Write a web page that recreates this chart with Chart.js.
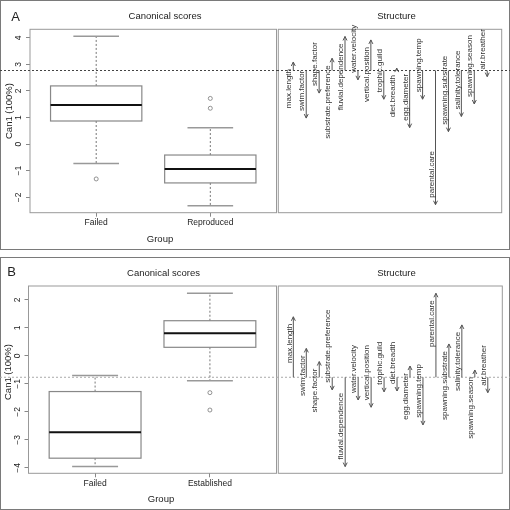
<!DOCTYPE html>
<html>
<head>
<meta charset="utf-8">
<script src="https://cdn.jsdelivr.net/npm/chart.js@4.4.1/dist/chart.umd.min.js"></script>
<style>
body{margin:0;background:#fff;width:510px;height:510px;position:relative;overflow:hidden;font-family:"Liberation Sans",Arial,sans-serif;color:#222;}
.panel{position:absolute;left:0;width:508px;border:1px solid #7a7a7a;}
canvas{position:absolute;}
.t{position:absolute;white-space:nowrap;transform:translate(-50%,-50%);font-size:9.5px;}
.letter{font-size:13px;}
.rot{transform:translate(-50%,-50%) rotate(-90deg);}
</style>
</head>
<body>
<div class="panel" style="top:0;height:248px"></div>
<div class="panel" style="top:257px;height:251px"></div>

<canvas id="boxA" width="277" height="249" style="left:0;top:0"></canvas>
<canvas id="structA" width="233" height="249" style="left:277px;top:0"></canvas>
<canvas id="boxB" width="277" height="252" style="left:0;top:257px"></canvas>
<canvas id="structB" width="233" height="252" style="left:277px;top:257px"></canvas>

<div class="t letter" style="left:15.5px;top:16px">A</div>
<div class="t" style="left:165px;top:15px">Canonical scores</div>
<div class="t" style="left:396.5px;top:15px">Structure</div>
<div class="t rot" style="left:7.5px;top:111px">Can1 (100%)</div>
<div class="t" style="left:160px;top:237.5px">Group</div>

<div class="t letter" style="left:11.7px;top:270.5px">B</div>
<div class="t" style="left:163.5px;top:271.5px">Canonical scores</div>
<div class="t" style="left:396.5px;top:271.5px">Structure</div>
<div class="t rot" style="left:7px;top:372px">Can1 (100%)</div>
<div class="t" style="left:161px;top:497.5px">Group</div>

<script>
// Panel A: canonical scores (whisker low, Q1, median, Q3, whisker high)
const groupsA = ['Failed', 'Reproduced'];
const boxFailedA = [-0.73, 0.87, 1.47, 2.19, 4.06];
const boxReproducedA = [-2.32, -1.46, -0.94, -0.41, 0.62];
const outFailedA = [-1.31];
const outReproducedA = [1.35, 1.72];
const yTicksA = [-2, -1, 0, 1, 2, 3, 4];
const baseA = 2.77;

// Panel B
const groupsB = ['Failed', 'Established'];
const boxFailedB = [-3.95, -3.65, -2.72, -1.27, -0.70];
const boxEstablishedB = [-0.88, 0.31, 0.81, 1.26, 2.24];
const outFailedB = [];
const outEstablishedB = [-1.31, -1.93];
const yTicksB = [-4, -3, -2, -1, 0, 1, 2];
const baseB = -0.76;

// Structure arrows (tip position on the score axis)
const traits = ['max.length', 'swim.factor', 'shape.factor', 'substrate.preference',
  'fluvial.dependence', 'water.velocity', 'vertical.position', 'trophic.guild',
  'diet.breadth', 'egg.diameter', 'spawning.temp', 'parental.care',
  'spawning.substrate', 'salinity.tolerance', 'spawning.season', 'air.breather'];
const structureA = [3.09, 0.98, 1.92, 3.23, 4.05, 2.42, 3.92, 1.69,
  2.86, 0.62, 1.69, -2.28, 0.47, 1.04, 1.51, 2.54];
const structureB = [1.40, 0.27, -0.20, -1.21, -3.95, -1.57, -1.83, -1.28,
  -1.25, -0.36, -2.46, 2.24, 0.43, 1.11, -0.50, -1.31];

Chart.defaults.font.family = '"Liberation Sans", Arial, sans-serif';
Chart.defaults.font.size = 8.5;
Chart.defaults.color = '#222';

function seg(ctx, x1, y1, x2, y2) {
  ctx.beginPath(); ctx.moveTo(x1, y1); ctx.lineTo(x2, y2); ctx.stroke();
}

function baseline(chart, base, color) {
  const ctx = chart.ctx, y0 = chart.scales.y.getPixelForValue(base);
  ctx.save();
  ctx.strokeStyle = color; ctx.lineWidth = 1; ctx.setLineDash([2, 2]);
  seg(ctx, 0, y0, chart.width, y0);
  ctx.restore();
}

function boxChart(id, groups, boxes, outliers, yTicks, yMin, yMax, base, baseColor, padTop, padBottom, axisW) {
  const points = [];
  outliers.forEach((list, i) => list.forEach(v => points.push({x: i + 1, y: v})));
  new Chart(document.getElementById(id), {
    type: 'scatter',
    data: {datasets: [{
      data: points,
      pointStyle: 'circle', pointRadius: 2, pointBorderWidth: 0.8,
      borderColor: '#777', backgroundColor: 'rgba(0,0,0,0)'
    }]},
    options: {
      responsive: false, animation: false,
      layout: {autoPadding: false, padding: {top: padTop, bottom: padBottom, left: 0, right: 0.5}},
      plugins: {legend: {display: false}, tooltip: {enabled: false}},
      scales: {
        x: {
          type: 'linear', min: 0.42, max: 2.58,
          afterBuildTicks: s => { s.ticks = groups.map((g, i) => ({value: i + 1})); },
          afterFit: s => { s.height = 20; },
          ticks: {padding: 1, callback: v => groups[v - 1]},
          grid: {drawOnChartArea: false, tickLength: 4, color: '#888'},
          border: {display: false}
        },
        y: {
          min: yMin, max: yMax,
          afterBuildTicks: s => { s.ticks = yTicks.map(v => ({value: v})); },
          afterFit: s => { s.width = axisW; },
          ticks: {display: false},
          grid: {drawOnChartArea: false, tickLength: 4, color: '#888'},
          border: {display: false}
        }
      }
    },
    plugins: [{
      id: 'boxes',
      beforeDatasetsDraw(chart) {
        const {ctx, chartArea: a, scales: {x, y}} = chart;
        ctx.save();
        ctx.strokeStyle = '#999'; ctx.lineWidth = 1;
        ctx.strokeRect(a.left, a.top, a.right - a.left, a.bottom - a.top);
        // rotated y tick labels
        ctx.fillStyle = '#222'; ctx.font = '8.5px "Liberation Sans", Arial, sans-serif';
        ctx.textAlign = 'center'; ctx.textBaseline = 'middle';
        yTicks.forEach(v => {
          ctx.save();
          ctx.translate(a.left - 11, y.getPixelForValue(v));
          ctx.rotate(-Math.PI / 2);
          ctx.fillText(v < 0 ? '\u2212' + Math.abs(v) : String(v), 0, 0);
          ctx.restore();
        });
        boxes.forEach((s, i) => {
          const g = i + 1;
          const cx = x.getPixelForValue(g);
          const l = x.getPixelForValue(g - 0.4), r = x.getPixelForValue(g + 0.4);
          const cl = x.getPixelForValue(g - 0.2), cr = x.getPixelForValue(g + 0.2);
          const [lo, q1, med, q3, hi] = s.map(v => y.getPixelForValue(v));
          ctx.strokeStyle = '#777'; ctx.lineWidth = 1; ctx.setLineDash([2, 2]);
          seg(ctx, cx, q3, cx, hi); seg(ctx, cx, q1, cx, lo);
          ctx.setLineDash([]);
          ctx.strokeStyle = '#999'; ctx.lineWidth = 1.5;
          seg(ctx, cl, hi, cr, hi); seg(ctx, cl, lo, cr, lo);
          ctx.strokeStyle = '#888'; ctx.lineWidth = 1.2;
          ctx.strokeRect(l, q3, r - l, q1 - q3);
          ctx.strokeStyle = '#111'; ctx.lineWidth = 2;
          seg(ctx, l, med, r, med);
        });
        ctx.restore();
        baseline(chart, base, baseColor);
      }
    }]
  });
}

function structChart(id, values, yMin, yMax, base, baseColor, pad) {
  new Chart(document.getElementById(id), {
    type: 'scatter',
    data: {datasets: []},
    options: {
      responsive: false, animation: false,
      layout: {autoPadding: false, padding: pad},
      plugins: {legend: {display: false}, tooltip: {enabled: false}},
      scales: {
        x: {type: 'linear', min: -0.16, max: 17.12, display: false},
        y: {min: yMin, max: yMax, display: false}
      }
    },
    plugins: [{
      id: 'arrows',
      afterDraw(chart) {
        const {ctx, chartArea: a, scales: {x, y}} = chart;
        ctx.save();
        ctx.strokeStyle = '#999'; ctx.lineWidth = 1;
        ctx.strokeRect(a.left, a.top, a.right - a.left, a.bottom - a.top);
        ctx.restore();
        baseline(chart, base, baseColor);
        const y0 = y.getPixelForValue(base);
        ctx.save();
        ctx.font = '8px "Liberation Sans", Arial, sans-serif';
        ctx.fillStyle = '#333'; ctx.textBaseline = 'middle';
        traits.forEach((name, i) => {
          const px = x.getPixelForValue(i + 1);
          const py = y.getPixelForValue(values[i]);
          const d = py < y0 ? 1 : -1;
          ctx.strokeStyle = '#555'; ctx.lineWidth = 1;
          seg(ctx, px, y0, px, py);
          seg(ctx, px, py, px - 2, py + 4 * d);
          seg(ctx, px, py, px + 2, py + 4 * d);
          ctx.save();
          ctx.translate(px - 4, py + 7 * d);
          ctx.rotate(-Math.PI / 2);
          ctx.textAlign = d > 0 ? 'right' : 'left';
          ctx.fillText(name, 0, 0);
          ctx.restore();
        });
        ctx.restore();
      }
    }]
  });
}

boxChart('boxA', groupsA, [boxFailedA, boxReproducedA], [outFailedA, outReproducedA],
  yTicksA, -2.58, 4.32, baseA, '#444', 29.3, 16.3, 30);
structChart('structA', structureA, -2.58, 4.32, baseA, '#444',
  {left: 1.3, top: 29.3, right: 8.3, bottom: 36.3});

boxChart('boxB', groupsB, [boxFailedB, boxEstablishedB], [outFailedB, outEstablishedB],
  yTicksB, -4.19, 2.5, baseB, '#aaa', 29, 15.7, 28.5);
structChart('structB', structureB, -4.19, 2.5, baseB, '#aaa',
  {left: 1.3, top: 29, right: 7.7, bottom: 35.7});
</script>
</body>
</html>
